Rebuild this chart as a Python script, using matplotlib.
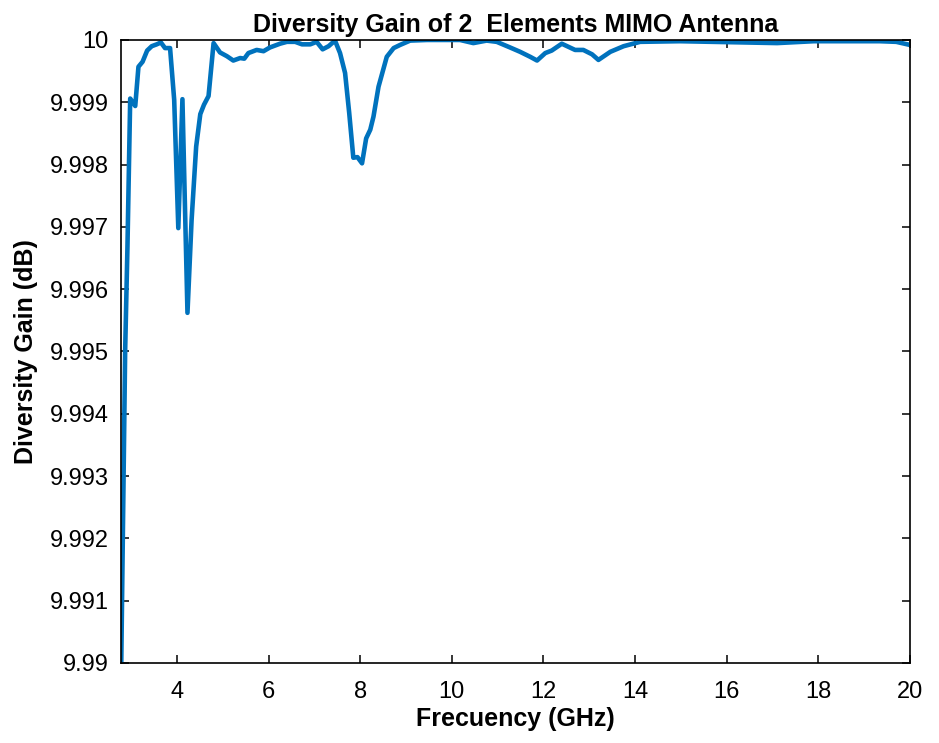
import numpy as np
import matplotlib
matplotlib.use('Agg')
import matplotlib.pyplot as plt
from matplotlib.ticker import FuncFormatter

# 频率 (GHz) 和 分集增益 (dB)
freq = [2.70, 2.87, 2.92, 2.98, 3.09, 3.16, 3.25, 3.35, 3.45, 3.56, 3.65, 3.74, 3.85,
        3.94, 4.03, 4.12, 4.23, 4.32, 4.42, 4.51, 4.59, 4.69, 4.80, 4.94, 5.09, 5.23,
        5.38, 5.47, 5.56, 5.74, 5.89, 6.03, 6.25, 6.40, 6.58, 6.73, 6.91, 7.05, 7.18,
        7.31, 7.45, 7.56, 7.67, 7.76, 7.85, 7.94, 8.04, 8.13, 8.22, 8.29, 8.40, 8.58,
        8.73, 8.87, 9.09, 9.46, 10.18, 10.47, 10.76, 10.98, 11.27, 11.49, 11.71, 11.86,
        12.04, 12.18, 12.40, 12.69, 12.87, 13.06, 13.20, 13.46, 13.75, 14.11, 14.98,
        17.10, 17.90, 19.34, 19.70, 20.00]
gain = [9.9850, 9.99502, 9.99668, 9.99906, 9.99894, 9.99957, 9.99965, 9.99983, 9.99990,
        9.99993, 9.99996, 9.99987, 9.99987, 9.99904, 9.99698, 9.99905, 9.99562, 9.99711,
        9.99829, 9.99881, 9.99896, 9.99910, 9.99995, 9.99980, 9.99974, 9.99967, 9.99971,
        9.99970, 9.99979, 9.99984, 9.99982, 9.99988, 9.99994, 9.99997, 9.99997, 9.99993,
        9.99993, 9.99997, 9.99985, 9.99990, 9.99999, 9.99979, 9.99947, 9.99883, 9.99811,
        9.99812, 9.99802, 9.99842, 9.99856, 9.99877, 9.99925, 9.99973, 9.99987, 9.99992,
        9.99999, 10.0, 10.0, 9.99995, 9.99999, 9.99997, 9.99988, 9.99981, 9.99973,
        9.99967, 9.99979, 9.99983, 9.99994, 9.99984, 9.99984, 9.99977, 9.99968, 9.99981,
        9.99990, 9.99997, 9.99998, 9.99995, 9.99998, 9.99998, 9.99997, 9.99992]

xticks = [4, 6, 8, 10, 12, 14, 16, 18, 20]
yticks = [9.99, 9.991, 9.992, 9.993, 9.994, 9.995, 9.996, 9.997, 9.998, 9.999, 10]

plt.rcParams['font.family'] = ['Liberation Sans', 'DejaVu Sans']

fig = plt.figure(figsize=(9.39, 7.43), dpi=100)
ax = fig.add_axes([0.1289, 0.1077, 0.8402, 0.8385])
ax.plot(freq, gain, color='#0072BD', linewidth=3.3)

ax.set_xlim(2.78, 20)
ax.set_ylim(9.99, 10)
ax.set_xticks(xticks)
ax.set_yticks(yticks)
ax.yaxis.set_major_formatter(FuncFormatter(lambda v, p: '%g' % round(v, 4)))
ax.tick_params(direction='in', top=True, right=True, length=5.5, width=1.1, labelsize=17)
ax.tick_params(axis='x', pad=13)
ax.tick_params(axis='y', pad=9)
for s in ax.spines.values():
    s.set_linewidth(1.2)

ax.set_title('Diversity Gain of 2  Elements MIMO Antenna', fontsize=18, fontweight='bold', pad=6)
ax.set_xlabel('Frecuency (GHz)', fontsize=18, fontweight='bold', labelpad=3)
ax.set_ylabel('Diversity Gain (dB)', fontsize=18, fontweight='bold', labelpad=8)

plt.savefig('out.png', dpi=100)
plt.close()
